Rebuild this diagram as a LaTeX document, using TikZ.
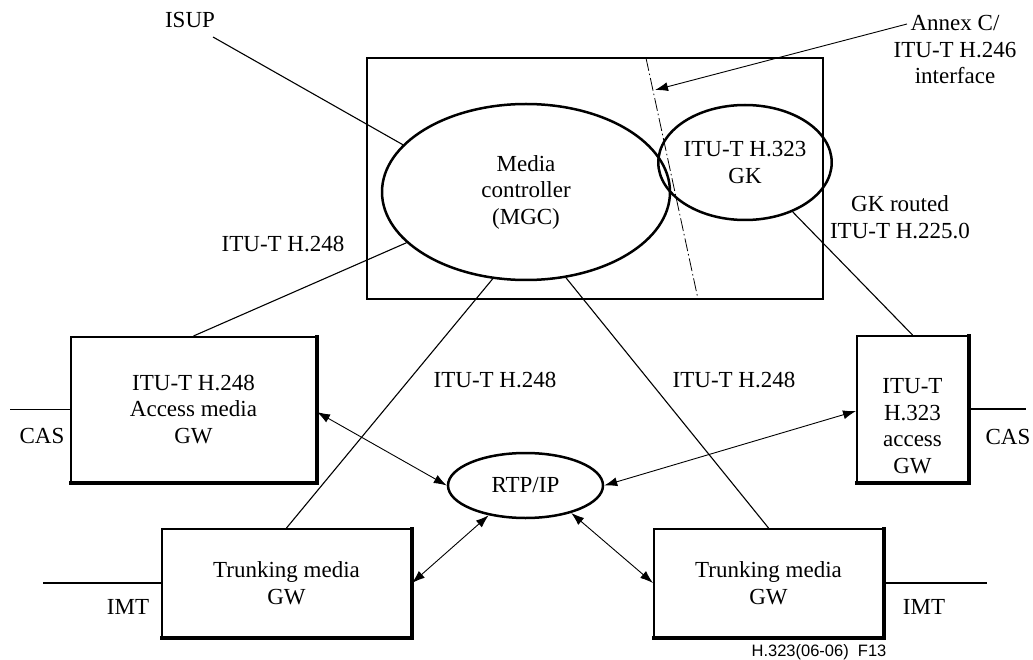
\documentclass[tikz,border=0pt]{standalone}
\usepackage{fontspec}
\setmainfont{Liberation Serif}
\newfontfamily\capfont{Liberation Sans}
\usetikzlibrary{shapes.geometric,arrows.meta}
\tikzset{
  lbl/.style={font=\fontsize{23}{26.5}\selectfont, align=center, inner sep=0pt},
  oval/.style={ellipse, draw, line width=2.5pt, inner sep=0pt, font=\fontsize{23}{26.5}\selectfont, align=center},
  gwbox/.style={rectangle, draw, line width=2pt, inner sep=0pt, font=\fontsize{23}{26.5}\selectfont, align=center},
  conn/.style={line width=1.1pt},
  biarrow/.style={line width=0.9pt, {Latex[length=13pt,width=9pt]}-{Latex[length=13pt,width=9pt]}},
  onearrow/.style={line width=0.9pt, -{Latex[length=13pt,width=9pt]}},
  thickedge/.style={line width=3.5pt}
}
\begin{document}
\begin{tikzpicture}[x=1pt,y=-1pt]
\useasboundingbox (0,0) rectangle (1033,660);
% outer frame
\node[draw, line width=1.2pt, minimum width=456pt, minimum height=241pt, inner sep=0pt] (frame) at (595,178.5) {};
% ellipses
\node[oval, minimum width=288pt, minimum height=176pt] (mgc) at (526,192) {Media\\controller\\(MGC)};
\node[oval, minimum width=146pt, minimum height=115pt] (gk) at (745,162.5) {ITU-T H.323\\GK};
\node[oval, minimum width=155pt, minimum height=65pt] (rtp) at (525.5,485.5) {RTP/IP};
% boxes
\node[gwbox, minimum width=245pt, minimum height=145pt] (access) at (193.5,409.5) {ITU-T H.248\\Access media\\GW};
\node[gwbox, minimum width=111pt, minimum height=146pt] (rbox) at (912.5,409) {};
\node[lbl] (rboxtext) at (912.5,426) {ITU-T\\H.323\\access\\GW};
\node[gwbox, minimum width=249pt, minimum height=108pt] (tleft) at (286.5,583) {Trunking media\\GW};
\node[gwbox, minimum width=229pt, minimum height=108pt] (tright) at (768.5,583) {Trunking media\\GW};
\foreach \b in {access,rbox,tleft,tright}{
  \draw[thickedge] ([yshift=1pt]\b.north east) -- (\b.south east) -- ([xshift=-1pt]\b.south west);
}
% dash-dot interface line
\coordinate (dd1) at (646,58);
\coordinate (dd2) at (698,299);
\draw[line width=0.8pt, dash pattern=on 13pt off 3pt on 1.5pt off 3pt] (dd1) -- (dd2);
% labels
\node[lbl] (isup) at (190,20) {ISUP};
\node[lbl] (h248a) at (283,244) {ITU-T H.248};
\node[lbl] (h248b) at (495,380) {ITU-T H.248};
\node[lbl] (h248c) at (734,380) {ITU-T H.248};
\node[lbl] (annex) at (955,50) {Annex C/\\ITU-T H.246\\interface};
\node[lbl] (gkr) at (900,217) {GK routed\\ITU-T H.225.0};
\node[lbl] (casl) at (42,436) {CAS};
\node[lbl] (casr) at (1008,437) {CAS};
\node[lbl] (imtl) at (128,607) {IMT};
\node[lbl] (imtr) at (924,607) {IMT};
\node[inner sep=0pt, font=\capfont\fontsize{16.5}{19}\selectfont] (cap) at (819,652) {H.323(06-06)\ \ F13};
% free ends
\coordinate (isupend) at (213,37);
\coordinate (annexend) at (907,24);
\coordinate (annextip) at (655,90);
\coordinate (casl0) at (10,409.5);
\coordinate (casr0) at (1026,409);
\coordinate (imtl0) at (43,583);
\coordinate (imtr0) at (987,583);
% connectors
\draw[conn] (isupend) -- (mgc.159.5);
\draw[conn] (mgc.203.6) -- (access.north);
\draw[conn] (mgc.249.2) -- (tleft.north);
\draw[conn] (mgc.295.2) -- (tright.north);
\draw[conn] (gk.314.4) -- (rbox.north);
\draw[onearrow] (annexend) -- (annextip);
\draw[conn] (casl0) -- (access.west);
\draw[conn] (rbox.east) -- (casr0);
\draw[conn] (imtl0) -- (tleft.west);
\draw[conn] (tright.east) -- (imtr0);
\draw[biarrow] ([yshift=-2.5pt]access.east) -- (rtp.west);
\draw[biarrow] ([yshift=-2pt]rbox.west) -- (rtp.east);
\draw[biarrow] (tleft.east) -- (rtp.219);
\draw[biarrow] (tright.west) -- (rtp.329);
\end{tikzpicture}
\end{document}
